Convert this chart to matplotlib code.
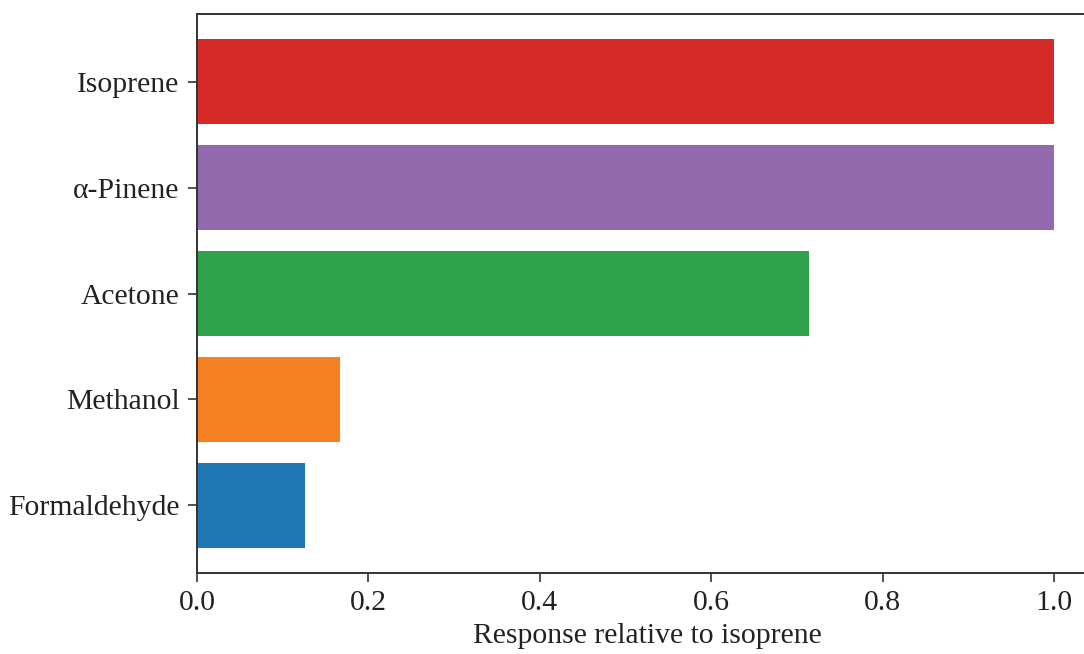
import matplotlib
matplotlib.use("Agg")
import matplotlib.pyplot as plt

compounds = ["Formaldehyde", "Methanol", "Acetone", "α-Pinene", "Isoprene"]
response = [0.126, 0.167, 0.714, 1.0, 1.0]
colors = ["#2077b4", "#f58021", "#30a24a", "#9369ad", "#d62a29"]
xlabel = "Response relative to isoprene"

plt.rcParams['font.family'] = ['Liberation Serif', 'DejaVu Serif']
plt.rcParams['font.size'] = 21.3

fig = plt.figure(figsize=(10.84, 6.54), dpi=100)
ax = fig.add_axes([197/1084, 81/654, 900/1084, 559/654])
ax.barh(compounds, response, color=colors, height=0.8)
ax.set_xlim(0, 1.05)
ax.set_xticks([0.0, 0.2, 0.4, 0.6, 0.8, 1.0])
ax.set_xticklabels(["0.0", "0.2", "0.4", "0.6", "0.8", "1.0"])
ax.set_xlabel(xlabel, color="#222222", labelpad=5)
for s in ax.spines.values():
    s.set_linewidth(1.4)
    s.set_color("#333333")
ax.tick_params(axis='both', length=6.5, width=1.2, color="#333333", labelcolor="#222222", pad=6)
fig.savefig("out.png", dpi=100)
